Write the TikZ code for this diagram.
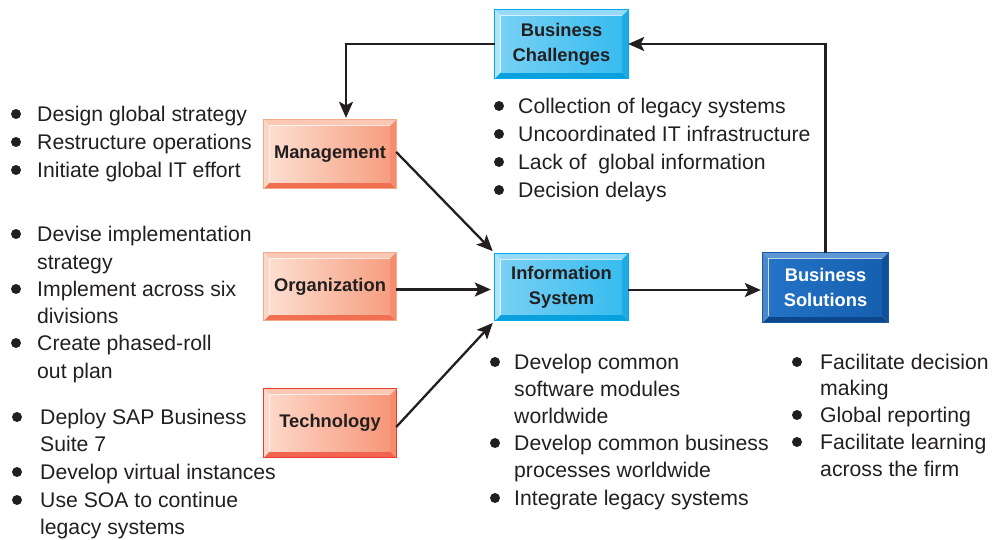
\documentclass[tikz,border=0pt]{standalone}
\usepackage{fontspec}
\setmainfont{Liberation Sans}
\usetikzlibrary{arrows.meta,backgrounds,calc}

% Blue (challenges / info system)
\definecolor{cytop}{RGB}{150,218,248}
\definecolor{cyleft}{RGB}{175,228,250}
\definecolor{cyright}{RGB}{30,170,228}
\definecolor{cybot}{RGB}{10,160,222}
\definecolor{cyinL}{RGB}{120,208,245}
\definecolor{cyinR}{RGB}{55,188,238}
\definecolor{cybd}{RGB}{0,170,235}
% Salmon (management / organization)
\definecolor{sntop}{RGB}{250,200,180}
\definecolor{snleft}{RGB}{252,215,200}
\definecolor{snright}{RGB}{245,140,110}
\definecolor{snbot}{RGB}{242,112,82}
\definecolor{sninL}{RGB}{253,222,208}
\definecolor{sninR}{RGB}{246,158,128}
\definecolor{snbd}{RGB}{242,170,140}
% Red border (technology)
\definecolor{rdtop}{RGB}{250,200,180}
\definecolor{rdleft}{RGB}{252,215,200}
\definecolor{rdright}{RGB}{245,140,110}
\definecolor{rdbot}{RGB}{242,100,80}
\definecolor{rdinL}{RGB}{253,215,200}
\definecolor{rdinR}{RGB}{246,150,120}
\definecolor{rdbd}{RGB}{235,60,50}
% Dark blue (solutions)
\definecolor{bltop}{RGB}{95,150,212}
\definecolor{blleft}{RGB}{75,135,202}
\definecolor{blright}{RGB}{15,80,155}
\definecolor{blbot}{RGB}{12,70,140}
\definecolor{blinL}{RGB}{35,115,198}
\definecolor{blinR}{RGB}{22,95,175}
\definecolor{blbd}{RGB}{25,90,165}
\definecolor{ink}{RGB}{35,31,32}

\newcommand\bevel[2]{%
 \begin{scope}[on background layer]
  \path (#1.north west) coordinate (bNW) (#1.north east) coordinate (bNE)
        (#1.south west) coordinate (bSW) (#1.south east) coordinate (bSE);
  \fill[#2top] (bNW) -- (bNE) -- ($(bNE)+(-6pt,-6pt)$) -- ($(bNW)+(6pt,-6pt)$) -- cycle;
  \fill[#2bot] (bSW) -- (bSE) -- ($(bSE)+(-6pt,6pt)$) -- ($(bSW)+(6pt,6pt)$) -- cycle;
  \fill[#2left] (bNW) -- (bSW) -- ($(bSW)+(6pt,6pt)$) -- ($(bNW)+(6pt,-6pt)$) -- cycle;
  \fill[#2right] (bNE) -- (bSE) -- ($(bSE)+(-6pt,6pt)$) -- ($(bNE)+(-6pt,-6pt)$) -- cycle;
  \shade[left color=#2inL, right color=#2inR] ($(bNW)+(6pt,-6pt)$) rectangle ($(bSE)+(-6pt,6pt)$);
  \draw[white, opacity=0.7, line width=0.8pt] ($(bSW)+(6pt,6pt)$) -- ($(bNW)+(6pt,-6pt)$) -- ($(bNE)+(-6pt,-6pt)$);
  \draw[#2bd, line width=1pt] (bNW) rectangle (bSE);
 \end{scope}}

\tikzset{
  box/.style={inner sep=0pt, align=center, font=\fontsize{18.3}{25}\selectfont\bfseries, text=ink},
  line/.style={anchor=base west, inner sep=0pt, font=\fontsize{21.2}{26}\selectfont, text=ink},
  arr/.style={draw=ink, line width=2.3pt, -{Stealth[length=16pt,width=14pt,inset=3.5pt]}},
}
\newcommand\bul[2]{\fill[ink] (#1,#2-7) circle (5pt);}

\begin{document}
\begin{tikzpicture}[x=1pt,y=-1pt]
\useasboundingbox (0,0) rectangle (992,539);

% boxes
\node[box, minimum width=133pt, minimum height=68pt] (chal) at (561.5,44) {Business\\Challenges};
\node[box, minimum width=132pt, minimum height=68pt] (mgmt) at (330,154) {Management};
\node[box, minimum width=132pt, minimum height=68pt] (org) at (330,286.5) {Organization};
\node[box, minimum width=132pt, minimum height=68pt] (tech) at (330,423) {Technology};
\node[box, minimum width=133pt, minimum height=67pt] (info) at (561.5,287) {Information\\System};
\node[box, text=white, minimum width=125pt, minimum height=69pt] (sol) at (825.5,287.5) {Business\\Solutions};
\bevel{chal}{cy}
\bevel{info}{cy}
\bevel{mgmt}{sn}
\bevel{org}{sn}
\bevel{tech}{rd}
\bevel{sol}{bl}

% arrows
\draw[arr] (chal.west) -| ([xshift=16pt,yshift=2pt]mgmt.north);
\draw[arr] (sol.north) |- (chal.east);
\draw[arr, shorten >=3pt] ([yshift=2pt]mgmt.east) -- (info.north west);
\draw[arr, shorten >=4pt] ([yshift=-3pt]org.east) -- ([yshift=-3pt]org.east -| info.west);
\draw[arr, shorten >=3pt] ([yshift=-4pt]tech.east) -- (info.south west);
\draw[arr, shorten >=2pt] ([yshift=-3pt]info.east) -- ([yshift=-3pt]info.east -| sol.west);

% management list
\bul{16}{121}\node[line] (m1) at (37,121) {Design global strategy};
\bul{16}{149}\node[line] (m2) at (37,149) {Restructure operations};
\bul{16}{177}\node[line] (m3) at (37,177) {Initiate global IT effort};

% organization list
\bul{16}{241}\node[line] (o1) at (37,241) {Devise implementation};
\node[line] (o2) at (37,269) {strategy};
\bul{16}{296}\node[line] (o3) at (37,296) {Implement across six};
\node[line] (o4) at (37,323) {divisions};
\bul{16}{350}\node[line] (o5) at (37,350) {Create phased-roll};
\node[line] (o6) at (37,378) {out plan};

% technology list
\bul{17}{424}\node[line] (t1) at (40,424) {Deploy SAP Business};
\node[line] (t2) at (40,451) {Suite 7};
\bul{17}{479}\node[line] (t3) at (40,479) {Develop virtual instances};
\bul{17}{507}\node[line] (t4) at (40,507) {Use SOA to continue};
\node[line] (t5) at (40,534) {legacy systems};

% challenges list
\bul{499}{113}\node[line] (c1) at (518,113) {Collection of legacy systems};
\bul{499}{141}\node[line] (c2) at (518,141) {Uncoordinated IT infrastructure};
\bul{499}{169}\node[line] (c3) at (518,169) {Lack of\ \ global information};
\bul{499}{197}\node[line] (c4) at (518,197) {Decision delays};

% information system list
\bul{495}{369}\node[line] (i1) at (514,369) {Develop common};
\node[line] (i2) at (514,396) {software modules};
\node[line] (i3) at (514,423) {worldwide};
\bul{495}{450}\node[line] (i4) at (514,450) {Develop common business};
\node[line] (i5) at (514,477) {processes worldwide};
\bul{495}{505}\node[line] (i6) at (514,505) {Integrate legacy systems};

% solutions list
\bul{797}{369}\node[line] (s1) at (820,369) {Facilitate decision};
\node[line] (s2) at (820,395) {making};
\bul{797}{422}\node[line] (s3) at (820,422) {Global reporting};
\bul{797}{449}\node[line] (s4) at (820,449) {Facilitate learning};
\node[line] (s5) at (820,476) {across the firm};
\end{tikzpicture}
\end{document}
